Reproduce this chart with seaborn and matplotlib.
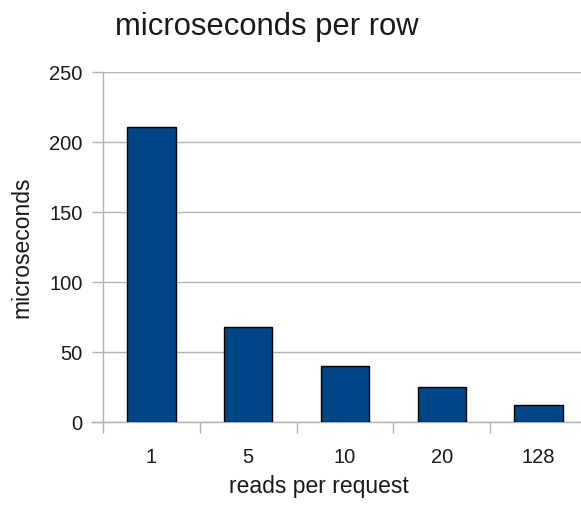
import matplotlib
matplotlib.use("Agg")
import matplotlib.pyplot as plt
import seaborn as sns
import pandas as pd

reads = ["1", "5", "10", "20", "128"]
micros = [211, 68, 40, 25, 12]

sns.set_theme(style="white")
plt.rcParams['font.family'] = ['Liberation Sans', 'DejaVu Sans']

df = pd.DataFrame({"reads per request": reads, "microseconds": micros})

fig = plt.figure(figsize=(5.81, 5.07), dpi=100)
# plot area runs a bit past the right edge, as in the original
ax = fig.add_axes([103 / 581, 85 / 507, 484 / 581, 350 / 507])

sns.barplot(data=df, x="reads per request", y="microseconds", ax=ax,
            color="#004586", saturation=1, width=0.5,
            edgecolor="black", linewidth=1, zorder=3)

ax.set_ylim(0, 250)
ax.set_yticks(range(0, 251, 50))
ax.set_xlim(-0.5, 4.5)
ax.grid(axis="y", color="#b3b3b3", linewidth=1, zorder=0)
ax.set_axisbelow(True)

for s in ["top", "right", "bottom"]:
    ax.spines[s].set_visible(False)
ax.spines["left"].set_color("#b3b3b3")
ax.spines["left"].set_linewidth(1)

ax.tick_params(axis="y", left=True, length=8, color="#b3b3b3", width=1,
               labelsize=14.5, pad=6.5, labelcolor="#1a1a1a")
# x ticks sit at category boundaries
ax.set_xticks([i + 0.5 for i in range(-1, 5)], minor=True)
ax.tick_params(axis="x", which="minor", bottom=True, length=8,
               color="#b3b3b3", width=1)
ax.tick_params(axis="x", which="major", bottom=False, labelsize=14.5,
               pad=13, labelcolor="#1a1a1a")
ax.axhline(0, xmin=-0.025, color="#b3b3b3", linewidth=1, clip_on=False, zorder=1)

ax.set_xlabel("reads per request", fontsize=16.5, color="#1a1a1a")
ax.xaxis.set_label_coords(0.445, -0.152)
ax.set_ylabel("microseconds", fontsize=16.5, color="#1a1a1a")
ax.yaxis.set_label_coords(-0.144, 0.5)
fig.text(266.5 / 581, 1 - 35 / 507, "microseconds per row", ha="center",
         va="baseline", fontsize=22.3, color="#1a1a1a")

fig.savefig("out.png", dpi=100)
